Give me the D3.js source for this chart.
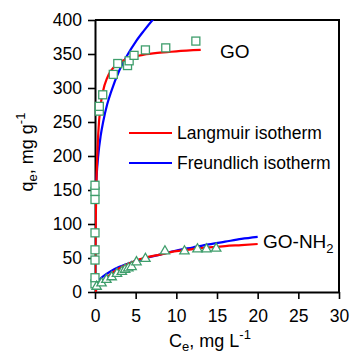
<!DOCTYPE html>
<html>
<head>
<meta charset="utf-8">
<script src="https://cdn.jsdelivr.net/npm/d3@7"></script>
<style>
  body { margin: 0; background: #fff; }
  text { font-family: "Liberation Sans", Arial, sans-serif; fill: #000; }
</style>
</head>
<body>
<svg width="350" height="353"></svg>
<script>
// Measured points, GO (squares)
var goCe = [0, 0, 0, 0, 0, 0, 0, 0, 0.53, 0.53, 0.95, 2.25, 2.8, 4.0, 4.2, 4.8, 6.2, 8.7, 12.4];
var goQe = [12, 21, 47, 62, 87, 136, 148, 157, 266, 273, 290, 320, 336, 333, 340, 348, 356, 359, 369];

// Measured points, GO-NH2 (triangles)
var nhCe = [0.2, 0.8, 1.4, 2.05, 2.7, 3.3, 3.7, 4.1, 4.5, 5.1, 6.2, 8.6, 11.0, 12.6, 13.7, 14.9];
var nhQe = [8, 13, 18, 22, 27, 30, 33, 35, 37, 44, 49, 60, 60, 63, 63, 64];

// Fitted curves
var goLangCe = [0, 0.05, 0.1, 0.2, 0.4, 0.7, 1, 1.5, 2, 3, 4, 6, 8, 10, 13];
var goLangQe = [0, 66, 112, 171, 233, 275, 296, 315, 326, 337, 343, 349, 352, 354, 356];
var goFreuCe = [0, 0.001, 0.01, 0.05, 0.1, 0.2, 0.4, 0.7, 1, 1.5, 2, 3, 4, 5, 6, 7.3, 8];
var goFreuQe = [0, 47, 83, 122, 144, 170, 201, 230, 250, 276, 295, 326, 349, 368, 384, 403, 412];
var nhLangCe = [0, 0.5, 1, 2, 3, 4, 5, 6, 8, 10, 12, 14, 16, 18, 20];
var nhLangQe = [0, 9, 16, 27, 35, 41, 46, 50, 55, 60, 63, 65.5, 67.5, 69, 70.6];
var nhFreuCe = [0, 0.05, 0.2, 0.5, 1, 2, 3, 4, 5, 6, 8, 10, 12, 14, 16, 18, 20];
var nhFreuQe = [0, 7, 12, 17.5, 23, 31, 37, 41.5, 45.5, 49, 55, 61, 65.5, 70, 74, 78, 81];

var xTicks = [0, 5, 10, 15, 20, 25, 30];
var yTicks = [0, 50, 100, 150, 200, 250, 300, 350, 400];

var svg = d3.select("svg");
var plotL = 95, plotR = 339, plotT = 20, plotB = 292;

var x = d3.scaleLinear().domain([0, 30]).range([plotL, plotR]);
var y = d3.scaleLinear().domain([0, 400]).range([plotB, plotT]);

svg.append("defs").append("clipPath").attr("id", "plot")
  .append("rect").attr("x", plotL).attr("y", plotT)
  .attr("width", plotR - plotL).attr("height", plotB - plotT);

// frame (top and right)
svg.append("path")
  .attr("d", "M" + plotL + "," + plotT + "H" + plotR + "V" + plotB)
  .attr("fill", "none").attr("stroke", "#000").attr("stroke-width", 2);

// axes
var yAxis = svg.append("g")
  .attr("transform", "translate(" + plotL + ",0)")
  .call(d3.axisLeft(y).tickValues(yTicks).tickSize(7).tickSizeOuter(0).tickPadding(6));
var xAxis = svg.append("g")
  .attr("transform", "translate(0," + plotB + ")")
  .call(d3.axisBottom(x).tickValues(xTicks).tickSize(7).tickSizeOuter(0).tickPadding(8));

[yAxis, xAxis].forEach(function (a) {
  a.select(".domain").attr("stroke-width", 2);
  a.selectAll(".tick line").attr("stroke-width", 1.6);
  a.selectAll(".tick text").style("font-size", "17.5px")
    .style("font-family", "'Liberation Sans', Arial, sans-serif");
});
xAxis.selectAll(".tick text").attr("dy", "0.85em");

// fitted curves
var line = d3.line()
  .x(function (d) { return x(d[0]); })
  .y(function (d) { return y(d[1]); })
  .curve(d3.curveMonotoneX);

function pairs(a, b) { return a.map(function (v, i) { return [v, b[i]]; }); }

var curves = svg.append("g").attr("clip-path", "url(#plot)");
curves.append("path").datum(pairs(goFreuCe, goFreuQe))
  .attr("d", line).attr("fill", "none").attr("stroke", "#0000ff").attr("stroke-width", 2.2);
curves.append("path").datum(pairs(goLangCe, goLangQe))
  .attr("d", line).attr("fill", "none").attr("stroke", "#ff0000").attr("stroke-width", 2.2);
curves.append("path").datum(pairs(nhFreuCe, nhFreuQe))
  .attr("d", line).attr("fill", "none").attr("stroke", "#0000ff").attr("stroke-width", 2.2);
curves.append("path").datum(pairs(nhLangCe, nhLangQe))
  .attr("d", line).attr("fill", "none").attr("stroke", "#ff0000").attr("stroke-width", 2.2);

// markers
var green = "#3f9e6c";
svg.append("g").selectAll("rect")
  .data(pairs(goCe, goQe))
  .enter()
  .append("rect")
  .attr("x", function (d) { return x(d[0]) - 4; })
  .attr("y", function (d) { return y(d[1]) - 4; })
  .attr("width", 8).attr("height", 8)
  .attr("fill", "#fff").attr("stroke", green).attr("stroke-width", 1.3);

svg.append("g").selectAll("path")
  .data(pairs(nhCe, nhQe))
  .enter()
  .append("path")
  .attr("transform", function (d) { return "translate(" + x(d[0]) + "," + y(d[1]) + ")"; })
  .attr("d", d3.symbol().type(d3.symbolTriangle).size(38))
  .attr("fill", "#fff").attr("stroke", green).attr("stroke-width", 1.3);

// legend
var legend = svg.append("g");
var legendItems = [["Langmuir isotherm", "#ff0000"], ["Freundlich isotherm", "#0000ff"]];
legendItems.forEach(function (d, i) {
  var ly = 133 + i * 30;
  legend.append("line").attr("x1", 129).attr("x2", 172).attr("y1", ly).attr("y2", ly)
    .attr("stroke", d[1]).attr("stroke-width", 2.2);
  legend.append("text").attr("x", 177).attr("y", ly + 6)
    .style("font-size", "17.5px").text(d[0]);
});

// series labels
svg.append("text").attr("x", 220).attr("y", 58).style("font-size", "19px").text("GO");
var nh = svg.append("text").attr("x", 263).attr("y", 248).style("font-size", "19px");
nh.append("tspan").text("GO-NH");
nh.append("tspan").attr("dy", 5).style("font-size", "13px").text("2");

// axis titles
var xt = svg.append("text").attr("x", 210).attr("y", 347)
  .attr("text-anchor", "middle").style("font-size", "18px");
xt.append("tspan").text("C");
xt.append("tspan").attr("dy", 4).style("font-size", "13px").text("e");
xt.append("tspan").attr("dy", -4).text(", mg L");
xt.append("tspan").attr("dy", -8).style("font-size", "13px").text("-1");

var yt = svg.append("text")
  .attr("transform", "translate(33,152) rotate(-90)")
  .attr("text-anchor", "middle").style("font-size", "18px");
yt.append("tspan").text("q");
yt.append("tspan").attr("dy", 4).style("font-size", "13px").text("e");
yt.append("tspan").attr("dy", -4).text(", mg g");
yt.append("tspan").attr("dy", -8).style("font-size", "13px").text("-1");
</script>
</body>
</html>
